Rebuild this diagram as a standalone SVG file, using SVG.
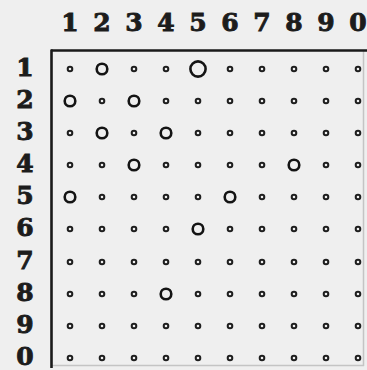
<svg xmlns="http://www.w3.org/2000/svg" xmlns:xlink="http://www.w3.org/1999/xlink" width="367" height="370" viewBox="0 0 367 370">
<style>
.num{font-family:"DejaVu Serif","Liberation Serif",serif;font-weight:bold;font-size:25px;fill:#1c1c1c;stroke:#1c1c1c;stroke-width:0.9;text-anchor:middle}
.dot{fill:none;stroke:#1e1e1e;stroke-width:2}
.ring{fill:none;stroke:#141414;stroke-width:2.6}
</style>
<defs>
<circle id="d" r="2.3" class="dot"/>
<circle id="o" r="5.3" class="ring"/>
</defs>
<rect width="367" height="370" fill="#efefef"/>
<g id="frame">
<line x1="363.5" y1="51" x2="363.5" y2="366" stroke="#c4c4c4" stroke-width="1.5"/>
<line x1="51" y1="365.5" x2="364" y2="365.5" stroke="#c4c4c4" stroke-width="1.5"/>
<line x1="51" y1="50.5" x2="367" y2="50.5" stroke="#1a1a1a" stroke-width="2.6"/>
<line x1="51.5" y1="49.5" x2="51.5" y2="368" stroke="#1a1a1a" stroke-width="2.6"/>
</g>
<g id="col-labels">
<text class="num" x="70" y="31">1</text>
<text class="num" x="102" y="31">2</text>
<text class="num" x="134" y="31">3</text>
<text class="num" x="166" y="31">4</text>
<text class="num" x="198" y="31">5</text>
<text class="num" x="230" y="31">6</text>
<text class="num" x="262" y="31">7</text>
<text class="num" x="294" y="31">8</text>
<text class="num" x="326" y="31">9</text>
<text class="num" x="358" y="31">0</text>
</g>
<g id="row-labels">
<text class="num" x="25" y="76">1</text>
<text class="num" x="25" y="108">2</text>
<text class="num" x="25" y="140">3</text>
<text class="num" x="25" y="172">4</text>
<text class="num" x="25" y="204">5</text>
<text class="num" x="25" y="236">6</text>
<text class="num" x="25" y="269">7</text>
<text class="num" x="25" y="301">8</text>
<text class="num" x="25" y="333">9</text>
<text class="num" x="25" y="365">0</text>
</g>
<g id="row1">
<use xlink:href="#d" x="70" y="69"/><use xlink:href="#o" x="102" y="69"/><use xlink:href="#d" x="134" y="69"/><use xlink:href="#d" x="166" y="69"/>
<circle cx="198" cy="69" r="7.6" class="ring" stroke-width="2.2"/>
<use xlink:href="#d" x="230" y="69"/><use xlink:href="#d" x="262" y="69"/><use xlink:href="#d" x="294" y="69"/><use xlink:href="#d" x="326" y="69"/><use xlink:href="#d" x="358" y="69"/>
</g>
<g id="row2">
<use xlink:href="#o" x="70" y="101"/><use xlink:href="#d" x="102" y="101"/><use xlink:href="#o" x="134" y="101"/><use xlink:href="#d" x="166" y="101"/><use xlink:href="#d" x="198" y="101"/><use xlink:href="#d" x="230" y="101"/><use xlink:href="#d" x="262" y="101"/><use xlink:href="#d" x="294" y="101"/><use xlink:href="#d" x="326" y="101"/><use xlink:href="#d" x="358" y="101"/>
</g>
<g id="row3">
<use xlink:href="#d" x="70" y="133"/><use xlink:href="#o" x="102" y="133"/><use xlink:href="#d" x="134" y="133"/><use xlink:href="#o" x="166" y="133"/><use xlink:href="#d" x="198" y="133"/><use xlink:href="#d" x="230" y="133"/><use xlink:href="#d" x="262" y="133"/><use xlink:href="#d" x="294" y="133"/><use xlink:href="#d" x="326" y="133"/><use xlink:href="#d" x="358" y="133"/>
</g>
<g id="row4">
<use xlink:href="#d" x="70" y="165"/><use xlink:href="#d" x="102" y="165"/><use xlink:href="#o" x="134" y="165"/><use xlink:href="#d" x="166" y="165"/><use xlink:href="#d" x="198" y="165"/><use xlink:href="#d" x="230" y="165"/><use xlink:href="#d" x="262" y="165"/><use xlink:href="#o" x="294" y="165"/><use xlink:href="#d" x="326" y="165"/><use xlink:href="#d" x="358" y="165"/>
</g>
<g id="row5">
<use xlink:href="#o" x="70" y="197"/><use xlink:href="#d" x="102" y="197"/><use xlink:href="#d" x="134" y="197"/><use xlink:href="#d" x="166" y="197"/><use xlink:href="#d" x="198" y="197"/><use xlink:href="#o" x="230" y="197"/><use xlink:href="#d" x="262" y="197"/><use xlink:href="#d" x="294" y="197"/><use xlink:href="#d" x="326" y="197"/><use xlink:href="#d" x="358" y="197"/>
</g>
<g id="row6">
<use xlink:href="#d" x="70" y="229"/><use xlink:href="#d" x="102" y="229"/><use xlink:href="#d" x="134" y="229"/><use xlink:href="#d" x="166" y="229"/><use xlink:href="#o" x="198" y="229"/><use xlink:href="#d" x="230" y="229"/><use xlink:href="#d" x="262" y="229"/><use xlink:href="#d" x="294" y="229"/><use xlink:href="#d" x="326" y="229"/><use xlink:href="#d" x="358" y="229"/>
</g>
<g id="row7">
<use xlink:href="#d" x="70" y="262"/><use xlink:href="#d" x="102" y="262"/><use xlink:href="#d" x="134" y="262"/><use xlink:href="#d" x="166" y="262"/><use xlink:href="#d" x="198" y="262"/><use xlink:href="#d" x="230" y="262"/><use xlink:href="#d" x="262" y="262"/><use xlink:href="#d" x="294" y="262"/><use xlink:href="#d" x="326" y="262"/><use xlink:href="#d" x="358" y="262"/>
</g>
<g id="row8">
<use xlink:href="#d" x="70" y="294"/><use xlink:href="#d" x="102" y="294"/><use xlink:href="#d" x="134" y="294"/><use xlink:href="#o" x="166" y="294"/><use xlink:href="#d" x="198" y="294"/><use xlink:href="#d" x="230" y="294"/><use xlink:href="#d" x="262" y="294"/><use xlink:href="#d" x="294" y="294"/><use xlink:href="#d" x="326" y="294"/><use xlink:href="#d" x="358" y="294"/>
</g>
<g id="row9">
<use xlink:href="#d" x="70" y="326"/><use xlink:href="#d" x="102" y="326"/><use xlink:href="#d" x="134" y="326"/><use xlink:href="#d" x="166" y="326"/><use xlink:href="#d" x="198" y="326"/><use xlink:href="#d" x="230" y="326"/><use xlink:href="#d" x="262" y="326"/><use xlink:href="#d" x="294" y="326"/><use xlink:href="#d" x="326" y="326"/><use xlink:href="#d" x="358" y="326"/>
</g>
<g id="row10">
<use xlink:href="#d" x="70" y="358"/><use xlink:href="#d" x="102" y="358"/><use xlink:href="#d" x="134" y="358"/><use xlink:href="#d" x="166" y="358"/><use xlink:href="#d" x="198" y="358"/><use xlink:href="#d" x="230" y="358"/><use xlink:href="#d" x="262" y="358"/><use xlink:href="#d" x="294" y="358"/><use xlink:href="#d" x="326" y="358"/><use xlink:href="#d" x="358" y="358"/>
</g>
</svg>
